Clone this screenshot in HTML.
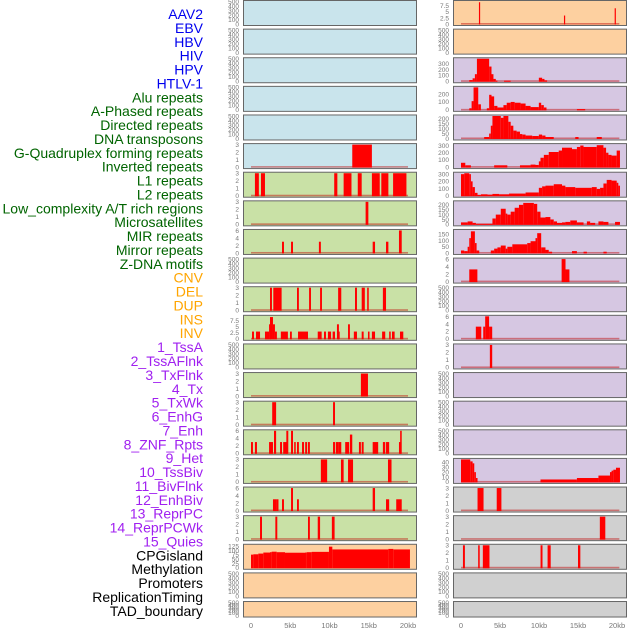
<!DOCTYPE html>
<html><head><meta charset="utf-8"><style>
body{margin:0;background:#fff;}
svg{display:block;font-family:"Liberation Sans",sans-serif;}
</style></head><body>
<svg id="chart" width="630" height="630" viewBox="0 0 630 630" xmlns="http://www.w3.org/2000/svg"></svg>
<script>
const trackLabels = ["AAV2","EBV","HBV","HIV","HPV","HTLV-1","Alu repeats","A-Phased repeats","Directed repeats","DNA transposons","G-Quadruplex forming repeats","Inverted repeats","L1 repeats","L2 repeats","Low_complexity A/T rich regions","Microsatellites","MIR repeats","Mirror repeats","Z-DNA motifs","CNV","DEL","DUP","INS","INV","1_TssA","2_TssAFlnk","3_TxFlnk","4_Tx","5_TxWk","6_EnhG","7_Enh","8_ZNF_Rpts","9_Het","10_TssBiv","11_BivFlnk","12_EnhBiv","13_ReprPC","14_ReprPCWk","15_Quies","CPGisland","Methylation","Promoters","ReplicationTiming","TAD_boundary"];
const labelGroups = ["v","v","v","v","v","v","r","r","r","r","r","r","r","r","r","r","r","r","r","s","s","s","s","s","c","c","c","c","c","c","c","c","c","c","c","c","c","c","c","o","o","o","o","o"];
const xTicks = [0,5,10,15,20];
const xTickLabels = ["0","5kb","10kb","15kb","20kb"];

const leftFill = ["b","b","b","b","b","b","g","g","g","g","g","g","g","g","g","g","g","g","g","o","o","o"];
const rightFill = ["o","o","p","p","p","p","p","p","p","p","p","p","p","p","p","p","p","n","n","n","n","n"];
const E=[0,100,200,300,400,500];
const leftYMax = [500,500,500,500,500,3,3,3,6,500,3,9.3,500,3,3,6,3,6,3,130,500,500];
const leftTicks = [E,E,E,E,E,[0,1,2,3],[0,1,2,3],[0,1,2,3],[0,2,4,6],E,[0,1,2,3],[0,2.5,5,7.5],E,[0,1,2,3],[0,1,2,3],[0,2,4,6],[0,1,2,3],[0,2,4,6],[0,1,2,3],[0,25,50,75,100,125],E,E];
const rightYMax = [9.3,500,383,284,229,313,313,231,182,6.1,500,6.1,3,500,500,500,46,3,3,3,500,500];
const rightTicks = [[0,2.5,5,7.5],E,[0,100,200,300],[0,100,200],[0,50,100,150,200],[0,100,200,300],[0,100,200,300],[0,50,100,150,200],[0,50,100,150],[0,2,4,6],E,[0,2,4,6],[0,1,2,3],E,E,E,[0,10,20,30,40],[0,1,2,3],[0,1,2,3],[0,1,2,3],E,E];

// bar data (kb start, kb end, value) per left panel
const leftStarts = [[],[],[],[],[],[12.9],[0.5,1.27,10.6,11.8,13.6,15.4,16.6,18.1],[14.6],[3.95,5.1,8.65,15.5,17.2,18.85],[],
 [2.42,2.84,5.86,7.4,8.8,11.1,13.25,14.1,14.8,16.8],
 [0.13,0.64,1.78,2.3,2.42,2.8,3.05,3.8,4.97,5.99,8.5,9.3,9.8,10.4,10.95,11.1,12.36,13.1,14.1,14.9,15.4,16.7,17.6,17.96,18.98],
 [],[14.0],[2.7,10.45],
 [0,0.5,2.3,2.93,3.7,4.1,4.5,5.1,5.5,5.86,6.5,6.9,7.26,10.45,10.8,11.1,12.0,12.6,13.75,14.1,15.5,16.8,17.2,18.85,19.0],
 [8.9,11.46,12.36,17.45],[2.8,3.3,3.95,5.1,5.86,15.5,17.2,18.5],[1.15,3.1,7.26,8.5,10.3],[],[],[]];
const leftEnds = [[],[],[],[],[],[15.4],[1.0,1.78,11.0,12.8,14.1,16.4,17.5,19.8],[14.95],[4.2,5.35,8.9,15.8,17.5,19.2],[],
 [2.67,3.9,6.1,7.64,9.04,11.5,13.5,14.5,15.0,17.2],
 [0.38,1.15,2.3,2.55,2.8,3.05,3.3,4.7,5.2,7.26,9.0,9.55,10.2,10.7,11.2,11.3,12.6,13.5,14.35,15.1,15.8,17.1,17.8,18.3,19.4],
 [],[14.9],[3.2,10.7],
 [0.25,0.76,2.8,3.2,3.95,4.6,4.75,5.35,5.7,6.1,6.75,7.15,7.5,10.7,11.1,11.5,12.5,12.9,14.0,14.35,16.2,17.1,17.6,19.1,19.2],
 [9.7,11.8,13.0,17.9],[3.3,3.5,4.2,5.35,6.1,15.8,17.6,19.2],[1.4,3.35,7.5,8.8,10.65],[],[],[]];
const leftValues = [[],[],[],[],[],[3],[3,3,3,3,3,3,3,3],[3],[3,3,3,3,3,6],[],
 [3,3,3,3,3,3,3,3,3,3],
 [3,3,3,6,9,6,3,3,3,3,3,3,3,3,6,3,6,3,3,3,3,3,3,3,3],
 [],[3],[3,3],
 [3,3,3,6,3,3,6,6,3,3,3,3,3,3,3,3,3,5,3,3,3,3,3,3,6],
 [3,3,3,3],[3,3,3,6,3,6,3,3],[3,3,3,3,3],[],[],[]];
// histogram data (breaks in kb, values) for CPG island
const cpgBreaks = [0,0.3,0.93,1.57,2.42,2.63,3.27,4.33,6.88,7.09,7.73,9.93,10.36,17.5,18.13,20.25];
const cpgValues = [76,78,82,88,90,93,90,87,88,90,92,122,106,109,106];

// right column: histogram breaks / values per panel
const rightBreaks = [
 [2.3,2.45,13.2,13.35,19.7,19.85],[],
 [1.06,1.49,1.78,2.04,3.61,3.91,4.16,4.46,4.67,5.52,6.37,9.98,10.4,10.7,11.04],
 [1.06,1.36,1.61,2.21,2.55,3.31,3.61,3.91,4.25,4.67,5.44,5.86,6.37,6.88,7.64,8.28,8.92,9.98,10.28,10.62,10.96,14.86,15.92],
 [2.97,3.61,3.82,4.03,5.1,5.44,6.07,6.37,6.71,7.13,7.56,7.86,8.28,9.13,9.98,10.4,10.83,11.89,14.65,15.07,17.4,18.05],
 [0,0.55,1.27,4.25,5.94,7.56,8.92,9.55,9.98,10.19,10.62,11.25,12.53,12.95,14.23,14.86,15.29,15.71,17.4,18.26,18.6,18.9,19.3,19.96,20.38],
 [0,0.42,1.06,1.27,1.49,1.78,2.12,2.55,3.4,4.03,4.88,6.16,8.28,9.98,10.4,10.83,11.89,12.95,13.38,14.65,16.77,17.4,17.83,18.26,18.68,19.3,19.96,20.17,20.38],
 [0,0.85,1.49,1.91,4.03,4.46,5.1,5.73,5.94,6.37,6.88,7.43,7.98,9.34,9.77,10.19,10.83,11.46,11.89,12.31,12.95,13.38,14.01,14.86,15.71,16.14,16.56,17.2,17.62,18.26,18.9,19.75,20.38],
 [0,0.42,0.85,1.06,1.27,1.78,2.0,2.34,3.82,4.25,4.67,5.1,5.73,5.94,6.58,8.49,8.92,9.55,9.77,10.28,10.83,11.25,11.68,14.23,14.86,15.71,16.14,18.26,18.68],
 [1.06,2.1,12.9,13.4,13.9],[],
 [1.9,2.6,2.85,3.1,3.6,4.0],
 [3.7,4.0],[],[],[],
 [0,1.19,1.49,1.7,1.91,2.12,10.19,14.86,17.62,19.1,19.3,19.53,19.87,20.38],
 [2.12,2.89,4.58,5.18],
 [17.8,18.5],
 [0.25,0.5,2.2,2.4,2.8,3.65,10.2,10.45,11.1,11.5,15.0,15.3],
 [],[]];
const rightValues = [
 [9,0,3.5,0,6.5],[],
 [20,50,120,383,250,120,40,10,0,10,0,60,40,15],
 [20,110,284,70,0,20,190,170,50,30,60,90,100,90,80,50,35,90,60,30,0,10],
 [15,50,130,229,210,229,170,130,80,70,45,40,30,25,40,30,15,0,15,0,15],
 [60,25,0,25,0,25,35,30,80,130,170,210,230,270,250,280,300,280,305,270,200,170,160,230],
 [300,313,300,200,120,40,10,20,15,25,20,30,45,110,130,140,160,140,120,110,120,95,110,170,220,210,180,140],
 [20,30,15,5,60,100,160,110,100,130,170,200,220,210,130,70,75,50,30,15,20,25,40,20,0,30,15,0,30,25,0,25],
 [20,15,50,120,175,80,20,0,20,35,45,60,35,50,70,80,95,120,160,45,25,10,0,15,0,10,0,10],
 [3.3,0,6.1,3.3],[],
 [3.3,0,3.3,6.1,3.3],
 [3],[],[],[],
 [46,42,38,20,8,0,5,8,13,20,23,25,29],
 [3,0,3],
 [3],
 [3,0,3,0,3,0,3,0,3,0,3],
 [],[]];

const NS="http://www.w3.org/2000/svg";
const svg=document.getElementById('chart');
function mk(tag,attrs,parent){const e=document.createElementNS(NS,tag);for(const k in attrs)e.setAttribute(k,attrs[k]);(parent||svg).appendChild(e);return e;}
const fills={b:"#c9e4ec",g:"#c9e1a6",o:"#fdd0a0",p:"#d6c7e2",n:"#d0d0d0"};
const labelColors={v:"#0000ee",r:"#006400",s:"#ffa500",c:"#a020f0",o:"#000000"};
const PITCH=28.62;
function panelTop(i){return i*PITCH+0.5;}
function panelH(i){return i===21?15.5:25;}
const cols=[{x0:243,x1:416,sx:kb=>251+kb*7.85,name:'left'},{x0:453,x1:626,sx:kb=>461+kb*7.8,name:'right'}];

// labels
trackLabels.forEach((t,i)=>{
  const el=mk('text',{x:203,y:14+i*13.88+5,'text-anchor':'end','font-size':'14',fill:labelColors[labelGroups[i]]});
  
  
  el.textContent=t;
});

function drawPanel(ci,i,fillKey,ymax,ticks){
  const c=cols[ci];const top=panelTop(i),h=panelH(i);
  const g=mk('g',{});
  
  
  mk('rect',{x:c.x0+0.5,y:top,width:c.x1-c.x0,height:h,fill:fills[fillKey],stroke:'#666','stroke-width':1},g);
  const base=top+h-1.5,span=h-2.5;
  const sy=v=>base-Math.min(v,ymax)/ymax*span;
  ticks.forEach(tv=>{
    const tl=mk('text',{x:c.x0-4,y:sy(tv)+2.3,'text-anchor':'end','font-size':'6.5',fill:'#777'},g);
    
    
    tl.textContent=String(tv);
  });
  return {g,sy,base,c,top,h};
}
function drawBase(p,end){
  const b=mk('rect',{x:p.c.sx(0),y:p.base-1,width:p.c.sx(end)-p.c.sx(0),height:1.6,fill:'rgba(190,0,0,0.45)'},p.g);
  
  
}
function bar(p,s,e,v){
  if(v<=0)return;
  const x=p.c.sx(s),w=Math.max(p.c.sx(e)-x,1.2),y=p.sy(v);
  const r=mk('rect',{x:x,y:y,width:w,height:p.base-y+0.5,fill:'#ff0000'},p.g);
  
  
}

for(let i=0;i<22;i++){
  const p=drawPanel(0,i,leftFill[i],leftYMax[i],leftTicks[i]);
  if(leftStarts[i].length){drawBase(p,20);}
  leftStarts[i].forEach((s,k)=>bar(p,s,leftEnds[i][k],leftValues[i][k]));
  if(i===19){for(let k=0;k<cpgValues.length;k++)bar(p,cpgBreaks[k],cpgBreaks[k+1],cpgValues[k]);}
}
for(let i=0;i<22;i++){
  const p=drawPanel(1,i,rightFill[i],rightYMax[i],rightTicks[i]);
  const br=rightBreaks[i],vals=rightValues[i];
  if(vals.length){drawBase(p,20.3);}
  for(let k=0;k<vals.length;k++)bar(p,br[k],br[k+1],vals[k]);
}
// x axes
cols.forEach(c=>{
  xTicks.forEach((t,k)=>{
    const tl=mk('text',{x:c.sx(t),y:628,'text-anchor':'middle','font-size':'7.5',fill:'#777'});
    
    
    tl.textContent=xTickLabels[k];
  });
});
</script>
</body></html>
